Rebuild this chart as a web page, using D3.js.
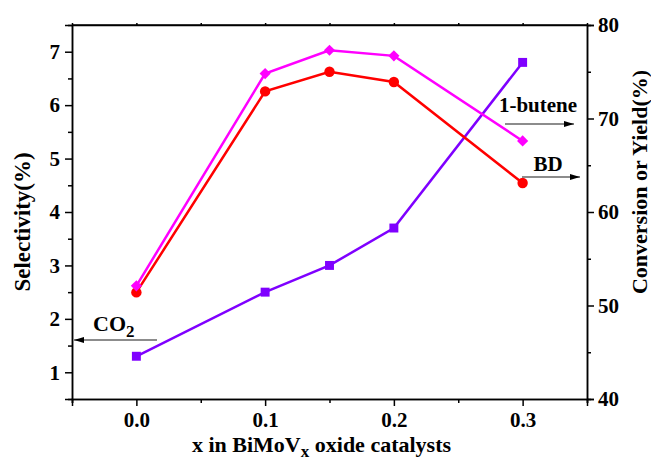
<!DOCTYPE html>
<html>
<head>
<meta charset="utf-8">
<script src="https://cdn.jsdelivr.net/npm/d3@7"></script>
<style>
  body { margin: 0; background: #fff; }
  svg { font-family: "Liberation Serif", "Times New Roman", serif; font-weight: bold; }
  .axis path, .axis line { stroke: #000; stroke-width: 1.5; }
  .axis text { font-family: "Liberation Serif", serif; font-weight: bold; font-size: 21px; fill: #000; }
</style>
</head>
<body>
<svg width="651" height="461"></svg>
<script>
var xVals = [0, 0.1, 0.15, 0.2, 0.3];
var co2Sel = [1.3, 2.5, 3.0, 3.7, 6.8];
var buteneVals = [52.1, 74.8, 77.3, 76.7, 67.6];
var bdVals = [51.4, 72.9, 75.0, 73.9, 63.1];
var xTicks = [0, 0.1, 0.2, 0.3];
var leftTicks = [1, 2, 3, 4, 5, 6, 7];
var rightTicks = [40, 50, 60, 70, 80];

var svg = d3.select("svg"),
    margin = {top: 25, right: 64, bottom: 62, left: 72},
    width = +svg.attr("width") - margin.left - margin.right,
    height = +svg.attr("height") - margin.top - margin.bottom;

var x = d3.scaleLinear().domain([-0.05, 0.35]).range([0, width]),
    yL = d3.scaleLinear().domain([0.5, 7.5]).range([height, 0]),
    yR = d3.scaleLinear().domain([40, 80]).range([height, 0]);

var g = svg.append("g")
    .attr("transform", "translate(" + margin.left + "," + margin.top + ")");

// minor ticks first
g.append("g").attr("class", "axis")
    .attr("transform", "translate(0," + height + ")")
    .call(d3.axisBottom(x).tickValues([-0.05, 0.05, 0.15, 0.25, 0.35]).tickSize(4).tickFormat(""));
g.append("g").attr("class", "axis")
    .call(d3.axisLeft(yL).tickValues([1.5, 2.5, 3.5, 4.5, 5.5, 6.5]).tickSize(4).tickFormat(""));
g.append("g").attr("class", "axis")
    .attr("transform", "translate(" + width + ",0)")
    .call(d3.axisRight(yR).tickValues([45, 55, 65, 75]).tickSize(4).tickFormat(""));
g.append("g").attr("class", "axis")
    .call(d3.axisTop(x).tickValues([0, 0.05, 0.1, 0.15, 0.2, 0.25, 0.3]).tickSize(2).tickFormat(""));

g.append("g").attr("class", "axis")
    .attr("transform", "translate(0," + height + ")")
    .call(d3.axisBottom(x).tickValues(xTicks).tickSize(7).tickPadding(6).tickFormat(d3.format(".1f")));
g.append("g").attr("class", "axis")
    .call(d3.axisLeft(yL).tickValues(leftTicks).tickSize(7).tickPadding(5).tickFormat(d3.format("d")));
g.append("g").attr("class", "axis")
    .attr("transform", "translate(" + width + ",0)")
    .call(d3.axisRight(yR).tickValues(rightTicks).tickSize(7).tickPadding(4).tickFormat(d3.format("d")));

g.append("line").attr("x1", 0).attr("x2", width).attr("y1", 0).attr("y2", 0)
    .attr("stroke", "#000").attr("stroke-width", 1.5);

// axis titles
svg.append("text")
    .attr("transform", "translate(22," + (margin.top + height / 2 + 10) + ") rotate(-90)")
    .attr("text-anchor", "middle").attr("dy", "0.35em")
    .style("font-size", "23px")
    .text("Selectivity(%)");
svg.append("text")
    .attr("transform", "translate(639," + (margin.top + height / 2 - 30) + ") rotate(-90)")
    .attr("text-anchor", "middle").attr("dy", "0.35em")
    .style("font-size", "22px")
    .text("Conversion or Yield(%)");
var xt = svg.append("text")
    .attr("x", margin.left + width / 2 - 8).attr("y", 452)
    .attr("text-anchor", "middle")
    .style("font-size", "22px");
xt.append("tspan").text("x in BiMoV");
xt.append("tspan").attr("dy", 5).style("font-size", "17px").text("x");
xt.append("tspan").attr("dy", -5).text(" oxide catalysts");

// series
var series = [
  {vals: co2Sel, y: yL, color: "#7f00ff", shape: d3.symbolSquare, size: 80, rot: 0},
  {vals: bdVals, y: yR, color: "#ff0000", shape: d3.symbolCircle, size: 85, rot: 0},
  {vals: buteneVals, y: yR, color: "#ff00ff", shape: d3.symbolSquare, size: 62, rot: 45}
];
series.forEach(function(s) {
  var pts = xVals.map(function(xv, i) { return [xv, s.vals[i]]; });
  g.append("path")
    .datum(pts)
    .attr("fill", "none")
    .attr("stroke", s.color)
    .attr("stroke-width", 2.5)
    .attr("d", d3.line().x(function(d) { return x(d[0]); }).y(function(d) { return s.y(d[1]); }));
  g.selectAll(null).data(pts).enter().append("path")
    .attr("transform", function(d) { return "translate(" + x(d[0]) + "," + s.y(d[1]) + ") rotate(" + s.rot + ")"; })
    .attr("d", d3.symbol().type(s.shape).size(s.size))
    .attr("fill", s.color);
});

// annotations with arrows
svg.append("defs").append("marker")
    .attr("id", "ah").attr("viewBox", "0 0 10 6").attr("refX", 10).attr("refY", 3)
    .attr("markerWidth", 10).attr("markerHeight", 6).attr("markerUnits", "userSpaceOnUse")
    .attr("orient", "auto")
  .append("path").attr("d", "M0,0L10,3L0,6Z").attr("fill", "#000");

function note(label, tx, ty, x1, x2, ay) {
  svg.append("line").attr("x1", x1).attr("x2", x2).attr("y1", ay).attr("y2", ay)
    .attr("stroke", "#666").attr("stroke-width", 1.5).attr("marker-end", "url(#ah)");
  return svg.append("text").attr("x", tx).attr("y", ty).attr("text-anchor", "middle")
    .style("font-size", "21px").text(label);
}
note("1-butene", 538, 112, 505, 574, 124);
note("BD", 548, 171, 522, 580, 177);
var co = svg.append("text").attr("x", 93).attr("y", 331).style("font-size", "22px");
co.append("tspan").text("CO");
co.append("tspan").attr("dy", 6).style("font-size", "17px").text("2");
svg.append("line").attr("x1", 157).attr("x2", 74).attr("y1", 340).attr("y2", 340)
    .attr("stroke", "#666").attr("stroke-width", 1.5).attr("marker-end", "url(#ah)");
</script>
</body>
</html>
